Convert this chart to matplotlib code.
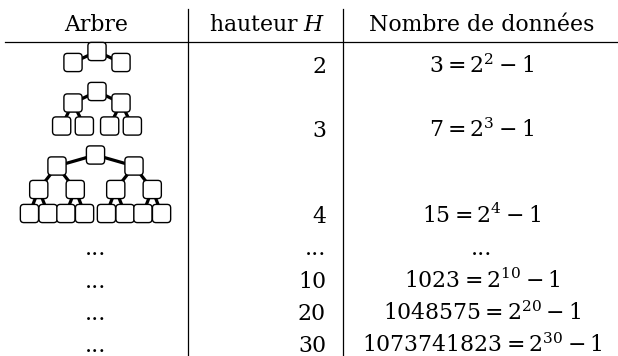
import matplotlib
matplotlib.use('Agg')
from matplotlib import pyplot as plt
from matplotlib.patches import FancyBboxPatch

# table contents
entetes = ["Arbre", "hauteur $H$", "Nombre de données"]
hauteurs = ["2", "3", "4", "...", "10", "20", "30"]
nombres = ["3", "7", "15", "...", "1023", "1048575", "1073741823"]
exposants = ["2", "3", "4", "", "10", "20", "30"]
arbres = [2, 3, 4]  # trees drawn for the first rows (height)

# layout (pixels, y downwards)
baselines = [73, 137, 223, 255, 288, 320, 352]
header_base = 31
x_arbre = 96
x_haut = 326
x_nombre = 482
x_sep1 = 187.5
x_sep2 = 343
y_rule = 41.5

# tree layout: root position, horizontal spacing and vertical step per level
tree_roots = [(97, 51.5), (97, 91.5), (95.5, 155)]
tree_spacing = [[48], [48, 22.7], [77, 36.5, 18.6]]
tree_dy = [[11], [11.5, 23], [11, 23.5, 24]]
box = 18.2

plt.rcParams['font.family'] = 'DejaVu Serif'
plt.rcParams['mathtext.fontset'] = 'dejavuserif'
fs = 15.8

fig = plt.figure(figsize=(6.18, 3.56), dpi=100)
ax = fig.add_axes([0, 0, 1, 1])
ax.set_xlim(0, 618)
ax.set_ylim(356, 0)
ax.axis('off')

# headers
ax.text(x_arbre, header_base, entetes[0], ha='center', va='baseline', fontsize=fs)
ax.text(x_haut, header_base, entetes[1], ha='right', va='baseline', fontsize=fs)
ax.text(x_nombre, header_base, entetes[2], ha='center', va='baseline', fontsize=fs)

# rules
ax.plot([5, 618], [y_rule, y_rule], color='black', lw=0.9)
ax.plot([x_sep1, x_sep1], [9, 356], color='black', lw=0.9)
ax.plot([x_sep2, x_sep2], [9, 356], color='black', lw=0.9)

# rows
for i, (h, n, e) in enumerate(zip(hauteurs, nombres, exposants)):
    yb = baselines[i]
    ax.text(x_haut, yb, h, ha='right', va='baseline', fontsize=fs)
    if e:
        txt = "$%s = 2^{%s} - 1$" % (n, e)
    else:
        txt = n
    ax.text(x_nombre, yb, txt, ha='center', va='baseline', fontsize=fs)
    if i >= len(arbres):
        ax.text(x_arbre, yb, "...", ha='center', va='baseline', fontsize=fs)


def draw_node(x, y, level, spacing, dy):
    if level < len(spacing):
        for s in (-1, 1):
            cx = x + s * spacing[level] / 2
            cy = y + dy[level]
            ax.plot([x, cx], [y, cy], color='black', lw=2.3, zorder=2)
            draw_node(cx, cy, level + 1, spacing, dy)
    ax.add_patch(FancyBboxPatch((x - box / 2, y - box / 2), box, box,
                                boxstyle="round,pad=0,rounding_size=3.5",
                                facecolor='white', edgecolor='black',
                                lw=1.0, zorder=3))


for k, h in enumerate(arbres):
    rx, ry = tree_roots[k]
    draw_node(rx, ry, 0, tree_spacing[k][:h - 1], tree_dy[k][:h - 1])

plt.savefig('out.png', dpi=100)
plt.close()
